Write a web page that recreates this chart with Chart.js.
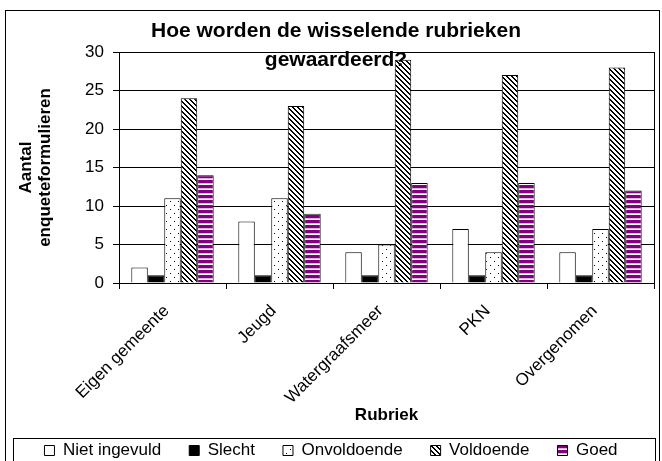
<!DOCTYPE html>
<html>
<head>
<meta charset="utf-8">
<script src="https://cdn.jsdelivr.net/npm/chart.js@4/dist/chart.umd.min.js"></script>
<style>
html,body{margin:0;padding:0;background:#fff;}
#wrap{width:662px;height:461px;position:relative;}
</style>
</head>
<body>
<div id="wrap"><canvas id="c" width="662" height="461"></canvas></div>
<script>
const categories = ["Eigen gemeente", "Jeugd", "Watergraafsmeer", "PKN", "Overgenomen"];
const nietIngevuld = [2, 8, 4, 7, 4];
const slecht = [1, 1, 1, 1, 1];
const onvoldoende = [11, 11, 5, 4, 7];
const voldoende = [24, 23, 29, 27, 28];
const goed = [14, 9, 13, 13, 12];
const yTicks = [0, 5, 10, 15, 20, 25, 30];
const titleLines = ["Hoe worden de wisselende rubrieken", "gewaardeerd?"];

const FONT = '"Liberation Sans", Arial, sans-serif';

function makePattern(w, h, draw) {
  const c = document.createElement('canvas');
  c.width = w; c.height = h;
  const x = c.getContext('2d');
  draw(x, w, h);
  return x.createPattern(c, 'repeat');
}
const dotPat = makePattern(8, 8, (x, w, h) => {
  x.fillStyle = '#fff'; x.fillRect(0, 0, w, h);
  x.fillStyle = '#000';
  x.fillRect(2, 1, 1, 1);
  x.fillRect(6, 5, 1, 1);
});
const diagPat = makePattern(5, 5, (x, w, h) => {
  x.fillStyle = '#fff'; x.fillRect(0, 0, w, h);
  x.fillStyle = '#000';
  for (let i = 0; i < 5; i++) { x.fillRect(i, i, 1, 1); x.fillRect((i + 1) % 5, i, 1, 1); }
});
const stripePat = makePattern(4, 5, (x, w, h) => {
  x.fillStyle = '#ffffff'; x.fillRect(0, 0, w, h);
  x.fillStyle = '#800080'; x.fillRect(0, 0, w, 3);
  x.fillStyle = '#d9b3d9'; x.fillRect(0, 3, w, 1);
});

const frame = {
  id: 'frame',
  beforeDraw(chart) {
    const c = chart.ctx;
    c.save();
    c.fillStyle = '#fff';
    c.fillRect(0, 0, chart.width, chart.height);
    c.strokeStyle = '#000'; c.lineWidth = 1;
    c.strokeRect(5.5, 10.5, 654, 470);
    c.strokeRect(13.5, 438.5, 642, 60);
    c.restore();
  },
  beforeDatasetsDraw(chart) {
    const a = chart.chartArea, c = chart.ctx;
    c.save();
    c.strokeStyle = '#000'; c.lineWidth = 1;
    c.strokeRect(Math.round(a.left) + 0.5, Math.round(a.top) + 0.5, Math.round(a.right - a.left), Math.round(a.bottom - a.top));
    c.restore();
  },
  afterDraw(chart) {
    const c = chart.ctx;
    c.save();
    c.fillStyle = '#000';
    c.font = 'bold 21px ' + FONT;
    c.textAlign = 'center'; c.textBaseline = 'middle';
    c.fillText(titleLines[0], 336, 31);
    c.fillText(titleLines[1], 336, 60);
    c.restore();
  }
};

const ds = (label, data, bg) => ({ label, data, backgroundColor: bg, borderColor: '#000', borderWidth: 1, borderSkipped: 'bottom' });

new Chart(document.getElementById('c'), {
  type: 'bar',
  data: {
    labels: categories,
    datasets: [
      ds('Niet ingevuld', nietIngevuld, '#ffffff'),
      ds('Slecht', slecht, '#000000'),
      ds('Onvoldoende', onvoldoende, dotPat),
      ds('Voldoende', voldoende, diagPat),
      ds('Goed', goed, stripePat)
    ]
  },
  options: {
    responsive: false,
    animation: false,
    devicePixelRatio: 1,
    layout: { padding: { left: 8, right: 8, top: 52, bottom: 0 } },
    datasets: { bar: { categoryPercentage: 0.77, barPercentage: 1 } },
    plugins: {
      title: { display: false },
      tooltip: { enabled: false },
      legend: {
        position: 'bottom',
        maxHeight: 47,
        labels: {
          color: '#000',
          font: { family: FONT, size: 17 },
          boxWidth: 10, boxHeight: 10, padding: 28
        }
      }
    },
    scales: {
      x: {
        grid: { display: true, drawOnChartArea: false, drawTicks: true, tickLength: 6, color: '#000', offset: true },
        border: { display: true, color: '#000' },
        ticks: {
          color: '#000', maxRotation: 45, minRotation: 45, padding: 12, labelOffset: -6,
          font: { family: FONT, size: 17 }
        },
        title: {
          display: true, text: 'Rubriek', color: '#000',
          font: { family: FONT, size: 17, weight: 'bold' },
          padding: { top: 0, bottom: -12 }
        },
        afterFit(s) { s.height = 131; }
      },
      y: {
        min: 0, max: 30,
        afterBuildTicks(s) { s.ticks = yTicks.map(v => ({ value: v })); },
        grid: { color: '#000', tickLength: 6 },
        border: { display: true, color: '#000' },
        ticks: {
          color: '#000', padding: 9,
          font: { family: FONT, size: 17 }
        },
        title: {
          display: true, text: ['Aantal', 'enqueteformulieren'], color: '#000',
          font: { family: FONT, size: 17, weight: 'bold', lineHeight: 1.12 },
          padding: { top: 9, bottom: 0 }
        },
        afterFit(s) { s.width = 111; }
      }
    }
  },
  plugins: [frame]
});
</script>
</body>
</html>
